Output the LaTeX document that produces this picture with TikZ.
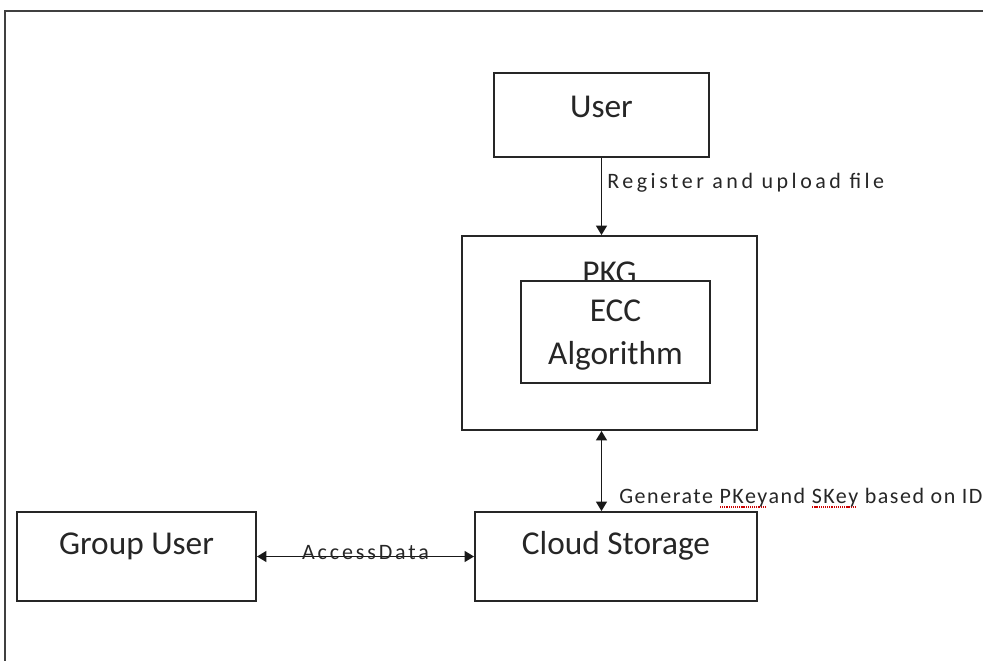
\documentclass[tikz,border=0pt]{standalone}
\usepackage{fontspec}
\setmainfont{Carlito}
\newfontfamily\labelfont[LetterSpace=13]{Carlito}
\newfontfamily\regfont[LetterSpace=16]{Carlito}
\newfontfamily\keyfont[LetterSpace=7]{Carlito}
\usetikzlibrary{positioning,arrows.meta}

% red dotted spell-check underline
\newcommand\wavy[1]{\setbox0=\hbox{#1}\rlap{\color{red!80!black}\raisebox{-3.5pt}{\hbox to \wd0{\leaders\hbox to 1.6pt{\hss\rule{0.9pt}{0.9pt}\hss}\hfill}}}#1}

\begin{document}
\begin{tikzpicture}[
    x=0.75pt, y=-0.75pt,
    box/.style={draw=black!85, line width=1.4pt, fill=white, inner sep=0pt,
        font=\fontsize{25}{30}\selectfont, text=black!85},
    onerow/.style={box, text height=15.8pt, text depth=19.5pt},
    title/.style={font=\fontsize{25}{30}\selectfont, text=black!85, inner sep=0pt},
    lab/.style={font=\labelfont\fontsize{16.5}{20}\selectfont, text=black!85, inner sep=0pt},
    arr/.style={-{Triangle[length=7pt,width=8pt]}, line width=1.3pt, draw=black!90},
    dbl/.style={{Triangle[length=7pt,width=8pt]}-{Triangle[length=7pt,width=8pt]}, line width=1.3pt, draw=black!90},
    frame/.style={draw=black!75, line width=1.4pt}]

\useasboundingbox (0,0) rectangle (983,661);
\draw[frame] (983,11) -- (5,11) -- (5,661);

% --- user and key generator
\node[onerow, minimum width=161.25pt, minimum height=63pt, text depth=12pt] (user) at (601.5,114.8) {User};
\node[box, minimum width=221.25pt, minimum height=145.5pt] (pkg) at (609.5,333) {};
\node[title, anchor=base] (pkgtitle) at (609.5,283) {PKG};
\node[box, minimum width=141.75pt, minimum height=76.5pt, align=center,
    font=\fontsize{25}{32}\selectfont, text depth=0pt] (ecc) at (615.5,332) {ECC\\Algorithm};

% --- storage side
\node[onerow, minimum width=211.5pt, minimum height=66.75pt] (cloud) at (616,556.5) {Cloud Storage};
\node[onerow, minimum width=179.25pt, minimum height=66.75pt] (group) at (136.5,556.5) {Group User};

% --- connectors
\draw[arr] (user.south) -- (user.south |- pkg.north);
\node[lab, font=\regfont\fontsize{16.5}{20}\selectfont, anchor=base west] (reglab) at (607,188)
    {Register and upload file};

\draw[dbl] (pkg.south -| user.south) -- (cloud.north -| user.south);
\node[lab, font=\keyfont\fontsize{16.5}{20}\selectfont, anchor=base west] (genlab) at (619,503)
    {Generate \wavy{PKey}and \wavy{SKey} based on ID};

\draw[dbl] (group.east) -- node[lab, anchor=base, pos=0.5, yshift=-2pt] (acclab) {AccessData} (cloud.west);
\end{tikzpicture}
\end{document}
